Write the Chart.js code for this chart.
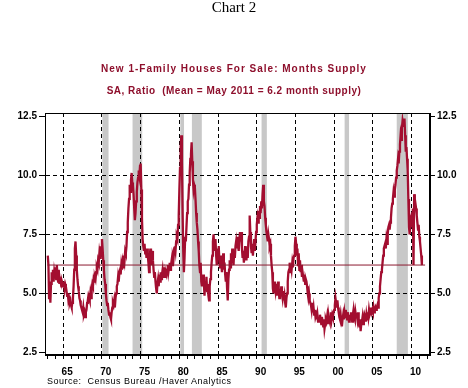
<!DOCTYPE html>
<html>
<head>
<meta charset="utf-8">
<script src="https://cdn.jsdelivr.net/npm/chart.js"></script>
<style>
  html, body { margin: 0; padding: 0; background: #ffffff; }
  #wrap { position: relative; width: 468px; height: 388px; overflow: hidden; background: #fff; }
  #c { position: absolute; left: 0; top: 0; }
  .t { position: absolute; left: 0; width: 468px; text-align: center; white-space: pre; }
  #t0 { top: 0px; font: 15px/15px "Liberation Serif", "Times New Roman", serif; color: #000; }
  #t1, #t2 { font: bold 10px/12px "Liberation Sans", Arial, sans-serif; color: #8e0f2c; }
  #t1 { top: 63px; letter-spacing: 1px; }
  #t2 { top: 85px; letter-spacing: 0.5px; }
  #src { position: absolute; left: 47px; top: 376px; font: 9px/10px "Liberation Sans", Arial, sans-serif; letter-spacing: 0.5px; color: #000; white-space: pre; }
</style>
</head>
<body>
<div id="wrap">
  <canvas id="c" width="468" height="388"></canvas>
  <div class="t" id="t0">Chart 2</div>
  <div class="t" id="t1">New 1-Family Houses For Sale: Months Supply</div>
  <div class="t" id="t2">SA, Ratio  (Mean = May 2011 = 6.2 month supply)</div>
  <div id="src">Source:  Census Bureau /Haver Analytics</div>
</div>
<script>
// ---- data (monthly, starting January 1963) ----
const startYear = 1963;
const monthsSupply = [
  6.6, 6.2, 4.8, 5.5, 4.6, 5.4, 5.9, 5.6, 6.0, 5.5, 5.9, 5.7,   // 1963
  6.1, 5.6, 6.2, 5.8, 5.5, 6.0, 5.4, 5.6, 5.5, 5.3, 5.5, 5.4,   // 1964
  5.3, 5.5, 5.2, 5.4, 5.3, 5.1, 4.9, 5.0, 4.7, 4.8, 4.6, 4.7,   // 1965
  4.5, 4.4, 4.6, 4.8, 5.3, 6.0, 6.9, 7.2, 6.6, 6.0, 5.6, 5.3,   // 1966
  5.1, 4.8, 4.7, 4.5, 4.4, 4.3, 4.2, 4.4, 4.1, 4.2, 4.0, 4.2,   // 1967
  4.3, 4.6, 4.7, 4.9, 4.8, 4.7, 5.0, 4.8, 5.2, 5.4, 5.3, 5.6,   // 1968
  5.5, 5.7, 5.6, 5.9, 6.1, 6.0, 6.4, 6.3, 6.7, 6.5, 7.0, 6.6,   // 1969
  7.3, 6.9, 6.4, 6.0, 5.6, 5.4, 5.0, 4.7, 4.5, 4.6, 4.3, 4.1,   // 1970
  4.2, 4.0, 3.9, 4.2, 4.4, 4.6, 4.5, 4.7, 4.4, 4.8, 5.0, 5.3,   // 1971
  5.4, 5.7, 5.5, 5.9, 6.0, 5.8, 6.2, 6.0, 6.3, 6.1, 6.6, 6.4,   // 1972
  6.8, 6.7, 7.0, 7.6, 8.0, 8.6, 9.0, 9.6, 9.3, 9.8, 10.1, 9.7,  // 1973
  9.6, 9.2, 8.6, 8.1, 8.4, 8.9, 9.3, 9.7, 9.9, 10.2, 10.0, 10.4, // 1974
  10.5, 9.4, 8.2, 7.3, 7.0, 6.8, 7.1, 6.7, 6.9, 6.5, 6.9, 6.6,  // 1975
  6.3, 5.9, 6.4, 6.9, 6.6, 6.2, 6.8, 6.4, 6.0, 5.7, 5.9, 5.5,   // 1976
  5.2, 5.0, 5.4, 5.6, 5.3, 5.8, 5.5, 5.9, 5.6, 5.8, 6.0, 5.7,   // 1977
  5.8, 6.1, 5.7, 5.9, 5.8, 6.0, 6.2, 5.9, 6.1, 6.3, 6.0, 6.2,   // 1978
  6.4, 6.2, 6.6, 6.5, 6.9, 7.0, 6.8, 7.2, 7.4, 7.3, 7.9, 8.3,   // 1979
  9.4, 10.3, 11.2, 11.7, 10.6, 8.4, 6.8, 5.9, 6.5, 7.4, 7.2, 7.8, // 1980
  8.4, 8.9, 9.0, 9.6, 10.1, 10.7, 10.9, 11.4, 10.6, 9.8, 9.4, 9.6, // 1981
  9.5, 9.0, 8.4, 8.0, 7.7, 7.2, 6.8, 6.2, 5.9, 6.3, 5.5, 5.3,   // 1982
  5.5, 5.8, 5.4, 4.9, 5.5, 5.2, 5.7, 5.1, 5.4, 4.9, 4.7, 5.3,   // 1983
  5.6, 5.9, 6.3, 6.6, 7.2, 7.5, 7.0, 6.8, 7.3, 6.6, 6.2, 6.9,   // 1984
  6.5, 7.0, 6.4, 6.1, 6.6, 6.3, 5.9, 6.4, 6.7, 6.0, 6.3, 5.8,   // 1985
  5.5, 5.9, 5.2, 4.7, 5.6, 6.0, 6.4, 6.1, 6.7, 6.3, 6.9, 6.5,   // 1986
  6.2, 6.8, 6.5, 7.0, 7.2, 6.9, 7.4, 7.0, 6.8, 7.3, 7.6, 7.2,   // 1987
  7.6, 6.9, 6.5, 6.8, 6.3, 6.6, 7.0, 6.7, 6.4, 6.9, 6.5, 7.2,   // 1988
  7.4, 8.3, 7.6, 7.0, 6.7, 7.1, 6.6, 7.0, 7.3, 6.8, 7.2, 7.6,   // 1989
  7.9, 8.2, 8.0, 8.5, 8.2, 8.7, 8.4, 8.9, 8.6, 9.2, 9.6, 8.9,   // 1990
  8.7, 8.2, 7.9, 7.6, 7.4, 7.2, 7.5, 7.3, 7.0, 7.1, 6.6, 6.2,   // 1991
  5.9, 5.2, 5.0, 5.5, 5.3, 5.1, 5.4, 4.9, 5.2, 5.5, 5.1, 4.8,   // 1992
  5.2, 4.9, 5.3, 5.0, 4.8, 5.1, 4.7, 4.9, 4.6, 4.4, 4.8, 5.0,   // 1993
  5.5, 5.9, 6.0, 6.3, 5.9, 6.2, 6.0, 6.3, 6.1, 6.5, 6.6, 7.0,   // 1994
  7.4, 7.1, 6.6, 6.9, 6.2, 6.7, 6.0, 6.4, 5.9, 6.2, 5.7, 5.9,   // 1995
  5.7, 5.5, 5.8, 5.4, 5.6, 5.5, 5.3, 5.0, 4.8, 5.0, 4.7, 4.6,   // 1996
  4.5, 4.3, 4.6, 4.2, 4.4, 4.1, 4.3, 4.0, 4.1, 3.9, 4.1, 3.8,   // 1997
  4.0, 3.8, 4.1, 3.9, 3.7, 4.0, 3.8, 3.6, 3.9, 3.5, 3.7, 3.9,   // 1998
  3.8, 4.0, 3.7, 4.1, 3.9, 3.8, 4.0, 4.2, 3.9, 4.1, 4.0, 4.2,   // 1999
  4.3, 4.5, 4.8, 4.6, 4.4, 4.7, 4.4, 4.2, 4.0, 3.9, 4.1, 3.8,   // 2000
  3.6, 3.9, 4.1, 3.9, 4.2, 4.0, 4.3, 4.1, 3.9, 4.2, 4.0, 3.8,   // 2001
  4.1, 3.9, 4.2, 4.0, 3.8, 4.1, 4.3, 4.0, 3.9, 4.2, 4.0, 4.1,   // 2002
  3.9, 4.2, 3.8, 3.6, 3.9, 3.4, 3.7, 3.8, 4.0, 3.7, 3.9, 4.1,   // 2003
  4.0, 3.8, 4.1, 3.9, 4.2, 4.0, 4.3, 4.1, 4.2, 4.4, 4.2, 4.3,   // 2004
  4.2, 4.4, 4.2, 4.3, 4.4, 4.3, 4.4, 4.5, 4.4, 4.8, 5.0, 5.3,   // 2005
  5.6, 5.9, 6.0, 6.3, 6.6, 6.9, 7.0, 7.1, 6.9, 7.3, 7.1, 7.5,   // 2006
  7.8, 7.9, 7.7, 8.0, 8.2, 8.6, 8.8, 9.0, 9.3, 9.1, 9.4, 9.6,   // 2007
  9.9, 10.2, 10.4, 10.7, 10.5, 11.0, 11.3, 11.7, 11.5, 12.0, 12.3, 12.1, // 2008
  12.2, 12.4, 11.7, 11.0, 11.2, 10.7, 10.2, 9.0, 7.8, 7.5, 7.9, 8.1, // 2009
  8.0, 8.4, 8.6, 6.2, 9.2, 9.0, 8.8, 8.6, 8.3, 8.0, 7.7, 7.9,   // 2010
  7.4, 7.2, 6.9, 6.6, 6.2                                       // 2011 (Jan-May)
];
const meanValue = 6.2;                 // mean = May 2011 value
const meanSpan = [1962.95, 2011.75];   // years covered by the mean line
// recession periods (decimal years)
const recessions = [
  [1970.05, 1970.85], [1973.95, 1975.2], [1980.12, 1980.6], [1981.62, 1982.9],
  [1990.62, 1991.3], [2001.35, 2001.92], [2008.08, 2009.52]
];
const yTicks = [2.5, 5.0, 7.5, 10.0, 12.5];
const yearTicks = [];
for (let y = 1963; y <= 2012; y++) yearTicks.push(y);
const xRange = [1962.64, 2012.38];
const yRange = [2.39, 12.64];

// ---- build points ----
const points = monthsSupply.map((v, i) => ({ x: startYear + i / 12, y: v }));
const meanPoints = meanSpan.map(x => ({ x: x, y: meanValue }));

const recessionPlugin = {
  id: 'recessions',
  beforeDraw(chart) {
    const { ctx, chartArea: a, scales: { x } } = chart;
    ctx.save();
    ctx.fillStyle = '#c8c8c8';
    recessions.forEach(([s, e]) => {
      const x1 = x.getPixelForValue(s), x2 = x.getPixelForValue(e);
      ctx.fillRect(x1, a.top, x2 - x1, a.bottom - a.top);
    });
    ctx.restore();
  }
};
const framePlugin = {
  id: 'frame',
  afterDraw(chart) {
    const { ctx, chartArea: a } = chart;
    ctx.save();
    ctx.strokeStyle = '#000';
    ctx.lineWidth = 1;
    ctx.strokeRect(Math.round(a.left) + 0.5, Math.round(a.top) + 0.5,
                   Math.round(a.right - a.left) - 1, Math.round(a.bottom - a.top) - 1);
    ctx.restore();
  }
};

const tickFont = { family: '"Liberation Sans", Arial, sans-serif', size: 10, weight: 'bold' };
const clear = 'rgba(0,0,0,0)';

new Chart(document.getElementById('c'), {
  type: 'line',
  data: {
    datasets: [
      { label: 'Mean', data: meanPoints, borderColor: '#8c1a30', borderWidth: 1, pointRadius: 0, tension: 0 },
      { label: 'Months Supply', data: points, borderColor: '#a30e30', borderWidth: 2.3, pointRadius: 0, tension: 0 }
    ]
  },
  options: {
    responsive: false,
    animation: false,
    devicePixelRatio: 1,
    layout: { padding: { top: 113, left: 0, right: 0, bottom: 0 } },
    plugins: { legend: { display: false }, tooltip: { enabled: false }, title: { display: false } },
    scales: {
      x: {
        type: 'linear', position: 'bottom', min: xRange[0], max: xRange[1],
        afterFit: s => { s.height = 33; },
        afterBuildTicks: s => { s.ticks = yearTicks.map(v => ({ value: v })); },
        ticks: {
          autoSkip: false, maxRotation: 0, minRotation: 0, labelOffset: 3.9, padding: 7,
          color: '#000', font: tickFont,
          callback: v => (Math.round(v) % 5 === 0 ? String(Math.round(v) % 100).padStart(2, '0') : '')
        },
        grid: {
          color: c => (c.tick && Math.round(c.tick.value) % 5 === 0 ? '#000' : clear),
          tickColor: '#000', tickLength: 4, lineWidth: 1
        },
        border: { display: true, color: '#000', width: 1, dash: [4, 3] }
      },
      y: {
        position: 'left', min: yRange[0], max: yRange[1],
        afterFit: s => { s.width = 45; },
        afterBuildTicks: s => { s.ticks = yTicks.map(v => ({ value: v })); },
        ticks: { padding: 2, color: '#000', font: tickFont, callback: v => Number(v).toFixed(1) },
        grid: {
          color: c => (c.tick && c.tick.value > 2.6 && c.tick.value < 12.4 ? '#000' : clear),
          tickColor: '#000', tickLength: 6, lineWidth: 1
        },
        border: { display: true, color: '#000', width: 1, dash: [4, 3] }
      },
      y2: {
        position: 'right', min: yRange[0], max: yRange[1],
        afterFit: s => { s.width = 38; },
        afterBuildTicks: s => { s.ticks = yTicks.map(v => ({ value: v })); },
        ticks: { padding: 2, color: '#000', font: tickFont, callback: v => Number(v).toFixed(1) },
        grid: { drawOnChartArea: false, tickColor: '#000', tickLength: 5 },
        border: { display: true, color: '#000', width: 1 }
      }
    }
  },
  plugins: [recessionPlugin, framePlugin]
});
</script>
</body>
</html>
